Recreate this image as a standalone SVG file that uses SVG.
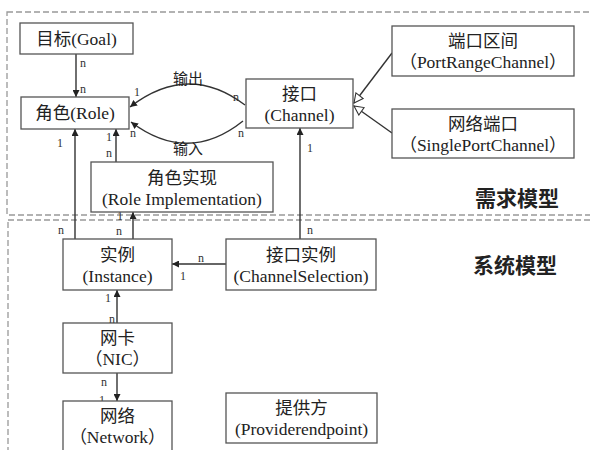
<svg xmlns="http://www.w3.org/2000/svg" width="590" height="450" viewBox="0 0 590 450">
<style>
.bx{fill:#fff;stroke:#555;stroke-width:1.3}
.t{font-family:"Liberation Serif","Times New Roman","Noto Sans CJK SC",serif;font-size:17.5px;fill:#222;text-anchor:middle}
.s{font-family:"Liberation Serif",serif;font-size:12px;fill:#333}
.c{fill:none;stroke:#333;stroke-width:1.4}
.dash{fill:none;stroke:#999;stroke-width:1.3;stroke-dasharray:6 3}
.big{font-family:"Noto Sans CJK SC",sans-serif;font-size:21px;font-weight:bold;fill:#222}
</style>
<defs>
<marker id="a" viewBox="0 0 10 10" refX="10" refY="5" markerWidth="7" markerHeight="7" orient="auto" markerUnits="userSpaceOnUse"><path d="M0,0L10,5L0,10z" fill="#222"/></marker>
<marker id="g" viewBox="0 0 12 12" refX="11" refY="6" markerWidth="11" markerHeight="11" orient="auto" markerUnits="userSpaceOnUse"><path d="M1,1L11,6L1,11z" fill="#fff" stroke="#333" stroke-width="1.2"/></marker>
</defs>
<rect width="590" height="450" fill="#fff"/>
<rect class="dash" x="7" y="12" width="600" height="203"/>
<rect class="dash" x="8" y="220" width="600" height="250"/>
<text class="big" x="475" y="206">需求模型</text>
<text class="big" x="473" y="273">系统模型</text>

<g id="connectors">
<line class="c" x1="76" y1="54" x2="76" y2="97" marker-end="url(#a)"/>
<path class="c" d="M245,105 Q188,62 130,107" marker-end="url(#a)"/>
<path class="c" d="M243,121 Q188,165 131,122" marker-end="url(#a)"/>
<line class="c" x1="75" y1="239" x2="75" y2="129" marker-end="url(#a)"/>
<line class="c" x1="116" y1="162" x2="116" y2="129" marker-end="url(#a)"/>
<line class="c" x1="133" y1="239" x2="133" y2="212" marker-end="url(#a)"/>
<line class="c" x1="300" y1="239" x2="300" y2="128" marker-end="url(#a)"/>
<line class="c" x1="226" y1="264" x2="172" y2="264" marker-end="url(#a)"/>
<line class="c" x1="117" y1="323" x2="117" y2="290" marker-end="url(#a)"/>
<line class="c" x1="117" y1="373" x2="117" y2="401" marker-end="url(#a)"/>
<line class="c" x1="392" y1="53" x2="354" y2="103" marker-end="url(#g)"/>
<line class="c" x1="392" y1="133" x2="354" y2="106" marker-end="url(#g)"/>
<text class="t" x="188" y="84" style="font-size:15px">输出</text>
<text class="t" x="188" y="154" style="font-size:15px">输入</text>
<text class="s" x="80" y="67">n</text>
<text class="s" x="80" y="93">n</text>
<text class="s" x="134" y="96">1</text>
<text class="s" x="233" y="101">n</text>
<text class="s" x="130" y="137">n</text>
<text class="s" x="238" y="137">n</text>
<text class="s" x="57" y="147">1</text>
<text class="s" x="106" y="141">1</text>
<text class="s" x="106" y="157">n</text>
<text class="s" x="307" y="152">1</text>
<text class="s" x="58" y="234">n</text>
<text class="s" x="117" y="220">1</text>
<text class="s" x="116" y="235">n</text>
<text class="s" x="307" y="234">n</text>
<text class="s" x="198" y="262">n</text>
<text class="s" x="180" y="280">1</text>
<text class="s" x="105" y="302">1</text>
<text class="s" x="109" y="323">n</text>
<text class="s" x="101" y="386">n</text>
<text class="s" x="99" y="404">1</text>
</g>

<g id="goal"><rect class="bx" x="20" y="23" width="113" height="31"/><text class="t" x="76.5" y="45">目标(Goal)</text></g>
<g id="role"><rect class="bx" x="21" y="97" width="108" height="32"/><text class="t" x="75" y="119">角色(Role)</text></g>
<g id="channel"><rect class="bx" x="246" y="79" width="107" height="49"/><text class="t" x="299.5" y="100">接口</text><text class="t" x="299.5" y="121">(Channel)</text></g>
<g id="portrange"><rect class="bx" x="392" y="26" width="182" height="50"/><text class="t" x="483" y="47">端口区间</text><text class="t" x="483" y="68">（PortRangeChannel）</text></g>
<g id="singleport"><rect class="bx" x="392" y="109" width="182" height="49"/><text class="t" x="483" y="130">网络端口</text><text class="t" x="483" y="151">（SinglePortChannel）</text></g>
<g id="roleimpl"><rect class="bx" x="91" y="162" width="182" height="50"/><text class="t" x="182" y="184">角色实现</text><text class="t" x="182" y="205">(Role Implementation)</text></g>
<g id="instance"><rect class="bx" x="63" y="239" width="109" height="51"/><text class="t" x="117.5" y="261">实例</text><text class="t" x="117.5" y="282">(Instance)</text></g>
<g id="channelselection"><rect class="bx" x="226" y="239" width="150" height="51"/><text class="t" x="301" y="261">接口实例</text><text class="t" x="301" y="282">(ChannelSelection)</text></g>
<g id="nic"><rect class="bx" x="63" y="323" width="109" height="50"/><text class="t" x="117.5" y="344">网卡</text><text class="t" x="117.5" y="365">（NIC）</text></g>
<g id="network"><rect class="bx" x="63" y="401" width="109" height="60"/><text class="t" x="117.5" y="422">网络</text><text class="t" x="117.5" y="443">（Network）</text></g>
<g id="provider"><rect class="bx" x="226" y="393" width="151" height="50"/><text class="t" x="301.5" y="414">提供方</text><text class="t" x="301.5" y="435">(Providerendpoint)</text></g>
</svg>
